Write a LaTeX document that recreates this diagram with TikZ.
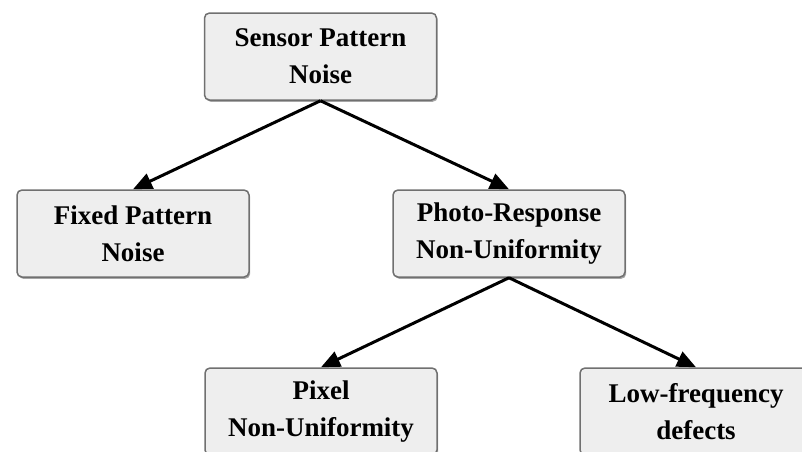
\documentclass[tikz,border=0pt]{standalone}
\usepackage{fontspec}
\setmainfont{Liberation Serif}
\usetikzlibrary{arrows.meta,shadows}
\definecolor{boxfill}{HTML}{EEEEEE}
\definecolor{boxline}{HTML}{707070}
\begin{document}
\begin{tikzpicture}[x=1pt,y=-1pt,
  cat/.style={draw=boxline, line width=1.5pt, fill=boxfill, rounded corners=5pt,
    minimum width=232pt, minimum height=87pt, align=center, inner sep=0pt,
    font=\fontsize{27}{37}\selectfont\bfseries,
    drop shadow={shadow xshift=1.2pt, shadow yshift=-1.8pt, fill=black, opacity=0.35}},
  link/.style={line width=3pt, -{Triangle[length=19pt,width=16pt]}}]
\useasboundingbox (0,0) rectangle (802,451);
\node[cat] (spn) at (320.5,56.5) {Sensor Pattern\\Noise};
\node[cat] (fpn) at (133,233.5) {Fixed Pattern\\Noise};
\node[cat] (prnu) at (509,233.5) {Photo-Response\\Non-Uniformity};
\node[cat] (pnu) at (321,411.5) {Pixel\\Non-Uniformity};
\node[cat] (lfd) at (696,411.5) {Low-frequency\\defects};
\draw[link] (spn.south) -- (fpn.north);
\draw[link] (spn.south) -- (prnu.north);
\draw[link] (prnu.south) -- (pnu.north);
\draw[link] (prnu.south) -- (lfd.north);
\end{tikzpicture}
\end{document}
